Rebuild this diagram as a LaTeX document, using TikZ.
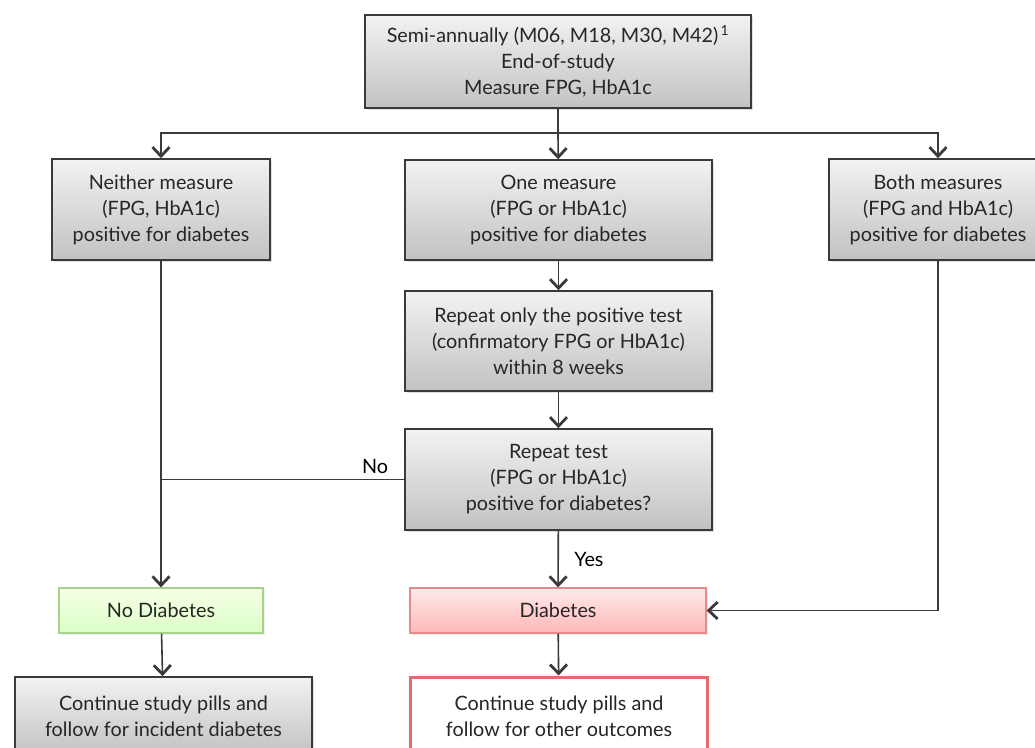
\documentclass[tikz,border=0pt]{standalone}
\usepackage{fontspec}
\setmainfont{Lato}
\usetikzlibrary{arrows.meta,shadows,calc}

\definecolor{edge}{HTML}{3A3A3A}
\definecolor{greenedge}{HTML}{A6D38A}
\definecolor{rededge}{HTML}{E36B6B}

\begin{document}
\begin{tikzpicture}[x=1pt,y=-1pt, >={Straight Barb[length=9pt,width=17pt,line width=2.8pt]},
line width=1.6pt, font=\fontsize{19.8}{26}\selectfont,
gbox/.style ={rectangle, draw=edge, line width=1.6pt, top color=white!95!black, bottom color=white!76!black, align=center, inner sep=0pt, text=black!85, drop shadow={shadow xshift=2pt, shadow yshift=-2pt, opacity=0.25}},
nodiab/.style ={rectangle, draw=greenedge, line width=1.2pt, top color=green!4!lime!10, bottom color=lime!45!green!22, align=center, inner sep=0pt, text=black!85, drop shadow={shadow xshift=2pt, shadow yshift=-2pt, opacity=0.15}},
diab/.style ={rectangle, draw=rededge!80, line width=1.2pt, top color=red!8, bottom color=red!28, align=center, inner sep=0pt, text=black!85, drop shadow={shadow xshift=2pt, shadow yshift=-2pt, opacity=0.15}},
outc/.style ={rectangle, draw=rededge, line width=3pt, fill=white, align=center, inner sep=0pt, text=black!85},
conn/.style ={draw=edge}]

\path[use as bounding box, clip] (0,0) rectangle (1035,747);

\draw (558,61.5) node[gbox, minimum width=386, minimum height=93] (Top) {Semi-annually (M06, M18, M30, M42)\textsuperscript{\,1}\\End-of-study\\Measure FPG, HbA1c};
\draw (161,209.5) node[gbox, minimum width=218, minimum height=101] (Neither) {Neither measure\\(FPG, HbA1c)\\positive for diabetes};
\draw (558.5,210) node[gbox, minimum width=307, minimum height=100] (One) {One measure\\(FPG or HbA1c)\\positive for diabetes};
\draw (938,209.5) node[gbox, minimum width=218, minimum height=101] (Both) {Both measures\\(FPG and HbA1c)\\positive for diabetes};
\draw (558.5,341) node[gbox, minimum width=307, minimum height=100] (RepPos) {Repeat only the positive test\\(confirmatory FPG or HbA1c)\\within 8 weeks};
\draw (558.5,479.5) node[gbox, minimum width=307, minimum height=101] (RepTest) {Repeat test\\(FPG or HbA1c)\\positive for diabetes?};
\draw (161,610.5) node[nodiab, minimum width=204, minimum height=45] (NoDiab) {No Diabetes};
\draw (558,610.5) node[diab, minimum width=296, minimum height=45] (Diab) {Diabetes};
\draw (163.5,716) node[gbox, minimum width=297, minimum height=78] (ContL) {Continue study pills and\\follow for incident diabetes};
\draw (559,716) node[outc, minimum width=297, minimum height=78] (ContR) {Continue study pills and\\follow for other outcomes};

% branch under the top box
\coordinate (split) at (558,133);
\draw[conn] (Top) -- (split);
\draw[conn,->] (split) -| (Neither);
\draw[conn,->] (split) -- (One);
\draw[conn,->] (split) -| (Both);

\draw[conn,->] (One) -- (RepPos);
\draw[conn,->] (RepPos) -- (RepTest);

\draw[conn,->] (Neither) -- (NoDiab);
\draw[conn] (RepTest.west) -- (RepTest.west -| Neither.south) node[pos=0.12, above=2pt] {No};
\draw[conn,->] (RepTest) -- (Diab) node[midway, right=12pt] {Yes};
\draw[conn,->] (Both) |- (Diab);

\draw[conn,->] (NoDiab) -- (ContL);
\draw[conn,->] (Diab) -- (ContR);

\end{tikzpicture}
\end{document}
